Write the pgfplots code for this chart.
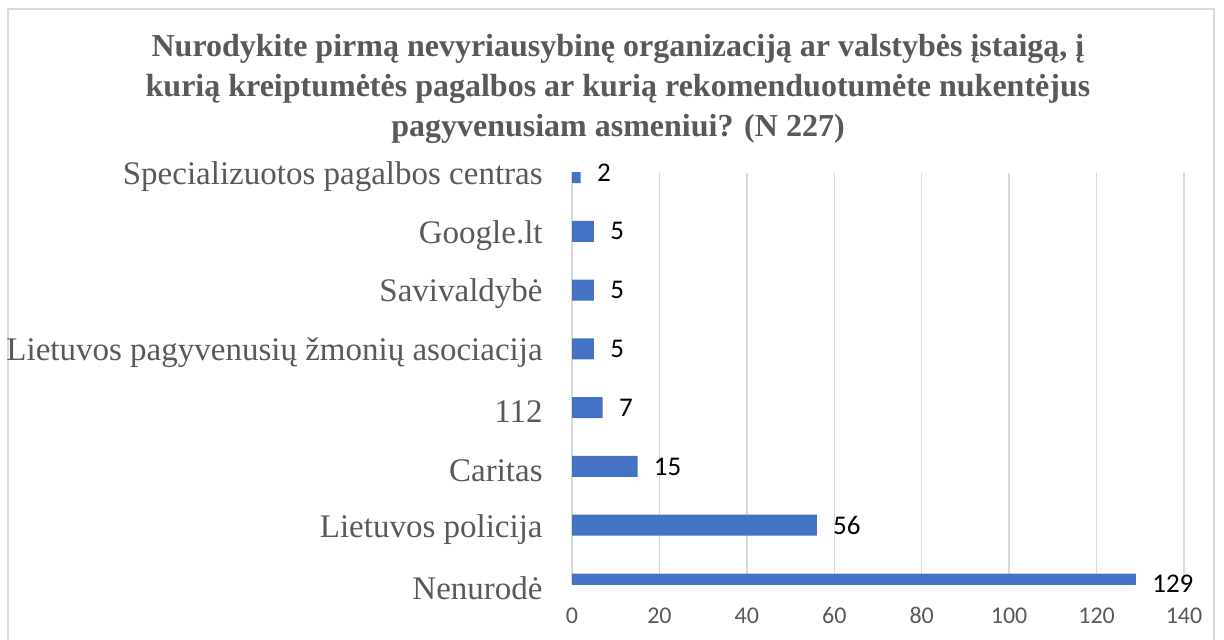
\documentclass[border=0pt]{standalone}
\usepackage{pgfplots}
\pgfplotsset{compat=1.18}
\usepackage{fontspec}
\setmainfont{Liberation Serif}
\newfontfamily\calibri{Carlito}
\definecolor{barblue}{HTML}{4472C4}
\definecolor{txtgray}{HTML}{595959}
\definecolor{gridgray}{HTML}{D9D9D9}
\begin{document}
\begin{tikzpicture}
\useasboundingbox (0,0) rectangle (612pt,-319.5pt);
\draw[gridgray, line width=0.75pt] (4pt,-4.5pt) rectangle (607pt,-330pt);
\node[align=center, font=\fontsize{16}{20}\selectfont\bfseries, text=txtgray] at (309pt,-44.5pt)
 {Nurodykite pirmą nevyriausybinę organizaciją ar valstybės įstaigą, į\\
  kurią kreiptumėtės pagalbos ar kurią rekomenduotumėte nukentėjus\\
  pagyvenusiam asmeniui? (N 227)};
\begin{axis}[
  at={(286pt,-292pt)}, anchor=south west,
  scale only axis, width=306pt, height=205.75pt,
  xbar, bar width=10.5pt,
  xmin=0, xmax=140, ymin=0, ymax=7,
  axis line style={draw=none},
  major tick length=0pt,
  xmajorgrids, grid style={gridgray, line width=0.75pt},
  xtick={0,20,...,140},
  xticklabels={0,20,40,60,80,100,120,140},
  ytick={0,...,7},
  yticklabels={Nenurodė, Lietuvos policija, Caritas, 112, Lietuvos pagyvenusių žmonių asociacija, Savivaldybė, Google.lt, Specializuotos pagalbos centras},
  yticklabel style={font=\fontsize{16.5}{18}\selectfont, text=txtgray, anchor=east, inner sep=0pt, xshift=-14.5pt, yshift=-2pt},
  xticklabel style={font=\calibri\fontsize{12}{14}\selectfont, text=txtgray, inner sep=0pt, anchor=base, yshift=-19.5pt},
  /pgf/number format/assume math mode=true,
  nodes near coords,
  nodes near coords style={font=\calibri\fontsize{13.5}{16}\selectfont, anchor=west, inner sep=0pt, xshift=8pt, text=black},
]
\addplot[fill=barblue, draw=none] coordinates {(129,0) (56,1) (15,2) (7,3) (5,4) (5,5) (5,6) (2,7)};
\end{axis}
\end{tikzpicture}
\end{document}
